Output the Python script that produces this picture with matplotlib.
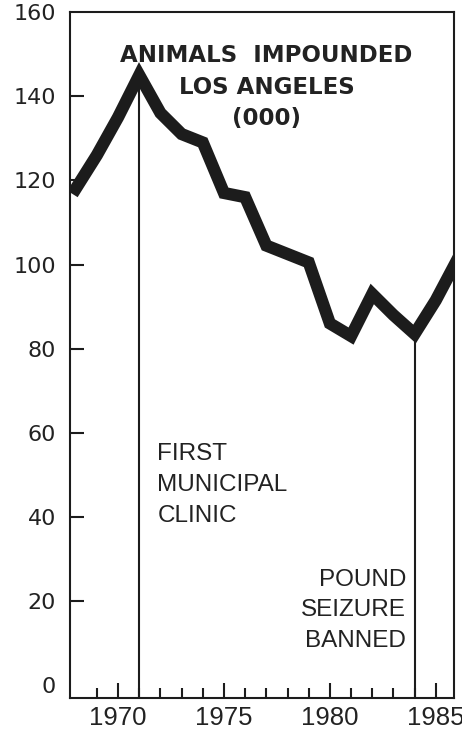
'Animals impounded, Los Angeles'
import matplotlib
matplotlib.use("Agg")
import matplotlib.pyplot as plt

# data (thousands of animals)
years = [1968, 1969, 1970, 1971, 1972, 1973, 1974, 1975, 1976, 1977,
         1978, 1979, 1980, 1981, 1982, 1983, 1984, 1985, 1986]
impounded = [118, 126, 135, 145, 136, 131, 129, 117, 116, 104.5,
             102.5, 100.5, 86, 83, 93, 88, 83.5, 91.5, 101]

# events marked with vertical lines
event_years = [1971, 1984]
event_values = [145, 83.5]

y_ticks = [0, 20, 40, 60, 80, 100, 120, 140, 160]
x_major = [1970, 1975, 1980, 1985]
x_minor = list(range(1969, 1986))

INK = "#1c1c1c"


def main():
    fig = plt.figure(figsize=(4.62, 7.29), dpi=100)
    ax = fig.add_axes([70 / 462, 31 / 729, 384 / 462, 686 / 729])

    # the thick data line
    ax.plot(years, impounded, color=INK, linewidth=8.8,
            solid_joinstyle="miter", solid_capstyle="projecting", zorder=3)

    # event lines from the axis up to the curve
    ax.vlines(event_years, -3, event_values, color=INK, linewidth=1.5, zorder=2)

    ax.set_xlim(1967.73, 1985.86)
    ax.set_ylim(-3, 160)

    # axes frame
    for side in ["left", "right", "top", "bottom"]:
        ax.spines[side].set_linewidth(1.5)
        ax.spines[side].set_color(INK)

    ax.set_yticks(y_ticks)
    ax.set_yticklabels([str(v) for v in y_ticks], family="DejaVu Sans",
                       fontsize=16, color="#222222")
    ax.tick_params(axis="y", direction="in", length=10, width=1.5,
                   pad=10, color=INK, right=False)
    # no tick marks at 0 and 160
    yt = ax.yaxis.get_major_ticks()
    yt[0].tick1line.set_visible(False)
    yt[-1].tick1line.set_visible(False)

    ax.set_xticks(x_major)
    ax.set_xticks(x_minor, minor=True)
    ax.set_xticklabels([str(v) for v in x_major], family="Liberation Sans",
                       fontsize=18.5, color="#222222")
    ax.tick_params(axis="x", which="major", direction="in", length=11,
                   width=1.5, pad=6, color=INK, top=False)
    ax.tick_params(axis="x", which="minor", direction="in", length=7,
                   width=1.5, color=INK, top=False)

    # title inside the plot
    ax.text(0.512, 0.953, "ANIMALS  IMPOUNDED\nLOS ANGELES\n(000)",
            transform=ax.transAxes, ha="center", va="top",
            family="DejaVu Sans", fontweight="bold", fontsize=16.5,
            color="#222222", linespacing=1.46)

    # event notes
    ax.text(1971.85, 57.7, "FIRST\nMUNICIPAL\nCLINIC", ha="left", va="top",
            family="Liberation Sans", fontsize=17.5, color="#222222",
            linespacing=1.53)
    ax.text(1983.6, 27.6, "POUND\nSEIZURE\nBANNED", ha="right", va="top",
            family="Liberation Sans", fontsize=17.5, color="#222222",
            linespacing=1.48, multialignment="right")

    fig.savefig("out.png", dpi=100)


if __name__ == "__main__":
    main()
